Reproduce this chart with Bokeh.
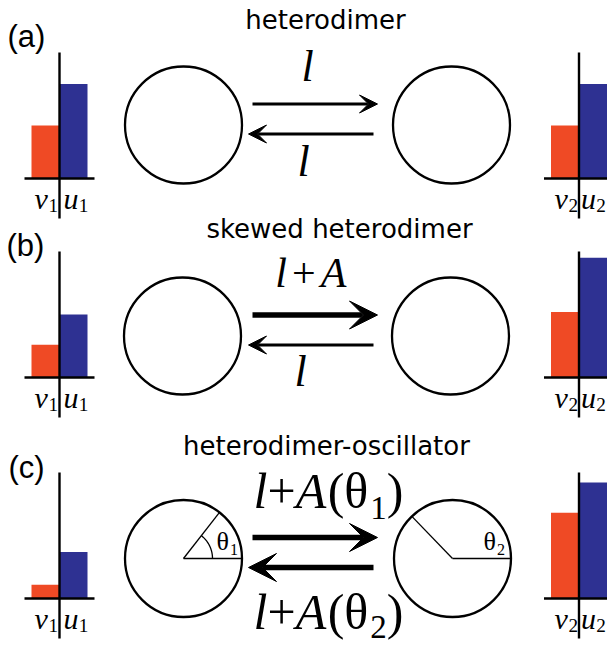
import math
import numpy as np
from bokeh.plotting import figure
from bokeh.models import Range1d, Arrow, VeeHead
from bokeh.core.properties import value
from bokeh.embed import file_html
from bokeh.resources import INLINE

# ---- values -------------------------------------------------------------
panel_tags = ["(a)", "(b)", "(c)"]
titles = ["heterodimer", "skewed heterodimer", "heterodimer-oscillator"]
# concentrations of v and u in cell 1 and cell 2 (fraction of the axis height)
v1 = [0.42, 0.26, 0.11]
u1 = [0.75, 0.50, 0.37]
v2 = [0.42, 0.52, 0.68]
u2 = [0.75, 0.95, 0.92]
# which transfer is enhanced (thick arrow) in each scheme
forward_boost = [False, True, True]
backward_boost = [False, False, True]
# oscillator phases of the two cells, degrees
theta1 = 52
theta2 = 134

RED = "#EF4A25"
BLUE = "#2E3192"
SERIF = "Liberation Serif"
SANS = "DejaVu Sans"

W, H = 607, 650
p = figure(width=W, height=H, x_range=Range1d(0, W), y_range=Range1d(H, 0),
           output_backend="svg", toolbar_location=None,
           x_axis_location=None, y_axis_location=None, min_border=0)
p.grid.visible = False
p.outline_line_color = None
p.background_fill_color = "white"

# ---- layout --------------------------------------------------------------
base_y = [178, 377, 598]        # baselines of the bar plots
AXIS_H = 126                    # axis height (value 1.0)
AXIS_BELOW = 40
circle_y = [124.5, 335.5, 558]
circle_x = [(183, 451), (182, 450), (183, 452)]
DIAM = 117
title_pos = [(325, 29), (339, 238), (326, 455)]
tag_pos = [(7, 47), (6, 256), (8, 478)]
arrow_dy = (-21, 9)             # forward / backward arrow offset from circle centre
ARROW_X = (252, 377)
BASE_SHIFT = 0.37               # text anchor sits this far (in em) above the drawn baseline

ADV = {("l", "italic"): 0.278, ("A", "italic"): 0.611, ("+", "normal"): 0.564,
       ("(", "normal"): 0.333, (")", "normal"): 0.333, ("θ", "normal"): 0.52,
       ("1", "normal"): 0.5, ("2", "normal"): 0.5, ("v", "italic"): 0.444,
       ("u", "italic"): 0.5}


def put_text(x, base, txt, size, font, style="normal", align="left"):
    p.text(x=[x], y=[base - BASE_SHIFT * size], text=[txt], text_font=value(font),
           text_font_style=style, text_font_size=f"{size:.1f}px",
           text_baseline="alphabetic", text_align=align, text_color="black")


def draw_runs(x0, base, size, runs, align="left"):
    """runs: (text, style, scale, drop_em, gap_em_after)"""
    widths = [ADV[(t, s)] * size * sc + g * size for t, s, sc, d, g in runs]
    x = x0 - (sum(widths) / 2 if align == "center" else 0)
    for (t, s, sc, d, g), w in zip(runs, widths):
        put_text(x, base + d * size, t, size * sc, SERIF, style=s)
        x += w


def rate_runs(kind, sub=None, sp=0.0, drop=0.22):
    if kind == "l":
        return [("l", "italic", 1, 0, 0)]
    r = [("l", "italic", 1, 0, sp), ("+", "normal", 1, 0, sp), ("A", "italic", 1, 0, 0.03)]
    if sub:
        r += [("(", "normal", 1, 0, 0), ("θ", "normal", 1, 0, 0),
              (sub, "normal", 0.66, drop, 0), (")", "normal", 1, 0, 0)]
    return r


def bar_group(axis_x, base, v, u, sub, label_x):
    bw = 28
    p.quad(left=[axis_x - bw, axis_x], right=[axis_x, axis_x + bw],
           bottom=[base, base], top=[base - v * AXIS_H, base - u * AXIS_H],
           fill_color=[RED, BLUE], line_color=None)
    p.segment(x0=[axis_x - 35, axis_x], y0=[base, base - AXIS_H],
              x1=[axis_x + 35, axis_x], y1=[base, base + AXIS_BELOW],
              line_color="black", line_width=2.4)
    lab = [("v", "italic", 1, 0, 0.02), (sub, "normal", 0.64, 0.12, 0)]
    draw_runs(label_x[0], base + 31, 30, lab)
    lab = [("u", "italic", 1, 0, 0.01), (sub, "normal", 0.64, 0.12, 0)]
    draw_runs(label_x[1], base + 31, 30, lab)


def arrow(x0, x1, y, thick):
    lw = 5.5 if thick else 3
    size = 28 if thick else 18
    p.add_layout(Arrow(end=VeeHead(size=size, fill_color="black", line_color="black", line_width=1),
                       x_start=x0, y_start=y, x_end=x1, y_end=y,
                       line_color="black", line_width=lw))


for i in range(3):
    # panel tag and title
    tx, ty = tag_pos[i]
    put_text(tx, ty, panel_tags[i], 31, "Liberation Sans")
    cx, cy = title_pos[i]
    put_text(cx, cy, titles[i], 26, SANS, align="center")

    # concentration bars of the two cells
    bar_group(59, base_y[i], v1[i], u1[i], "1", (34, 63))
    bar_group(578.5, base_y[i], v2[i], u2[i], "2", (554, 580.5))

    # the two cells
    ccy = circle_y[i]
    p.ellipse(x=list(circle_x[i]), y=[ccy, ccy], width=DIAM, height=DIAM,
              fill_color=None, line_color="black", line_width=2.3)

    # exchange arrows
    arrow(ARROW_X[0], ARROW_X[1], ccy + arrow_dy[0], forward_boost[i])
    arrow(ARROW_X[1] - 4, ARROW_X[0] - 4, ccy + arrow_dy[1], backward_boost[i])

# rate labels
draw_runs(307, 82, 44, rate_runs("l"), align="center")
draw_runs(303, 177, 44, rate_runs("l"), align="center")
draw_runs(311, 288, 42, rate_runs("lA", sp=0.12), align="center")
draw_runs(300, 387, 44, rate_runs("l"), align="center")
draw_runs(328, 509, 50, rate_runs("lA", sub="1"), align="center")
draw_runs(328, 630, 50, rate_runs("lA", sub="2", drop=0.18), align="center")

# oscillator phases drawn inside the cells of panel (c)
R = DIAM / 2
for (ox, th, arc_r, lab_x) in [(circle_x[2][0], theta1, 29, 216), (circle_x[2][1], theta2, None, 483)]:
    oy = circle_y[2]
    t = math.radians(th)
    p.segment(x0=[ox, ox], y0=[oy, oy], x1=[ox + R, ox + R * math.cos(t)],
              y1=[oy, oy - R * math.sin(t)], line_color="black", line_width=1.3)
    if arc_r:
        a = np.linspace(0, t, 40)
        p.line(ox + arc_r * np.cos(a), oy - arc_r * np.sin(a), line_color="black", line_width=1.3)
    sub = "1" if th == theta1 else "2"
    draw_runs(lab_x, 551, 26, [("θ", "normal", 1, 0, 0), (sub, "normal", 0.62, 0.14, 0)])

open("out.html", "w").write(file_html(p, INLINE))
